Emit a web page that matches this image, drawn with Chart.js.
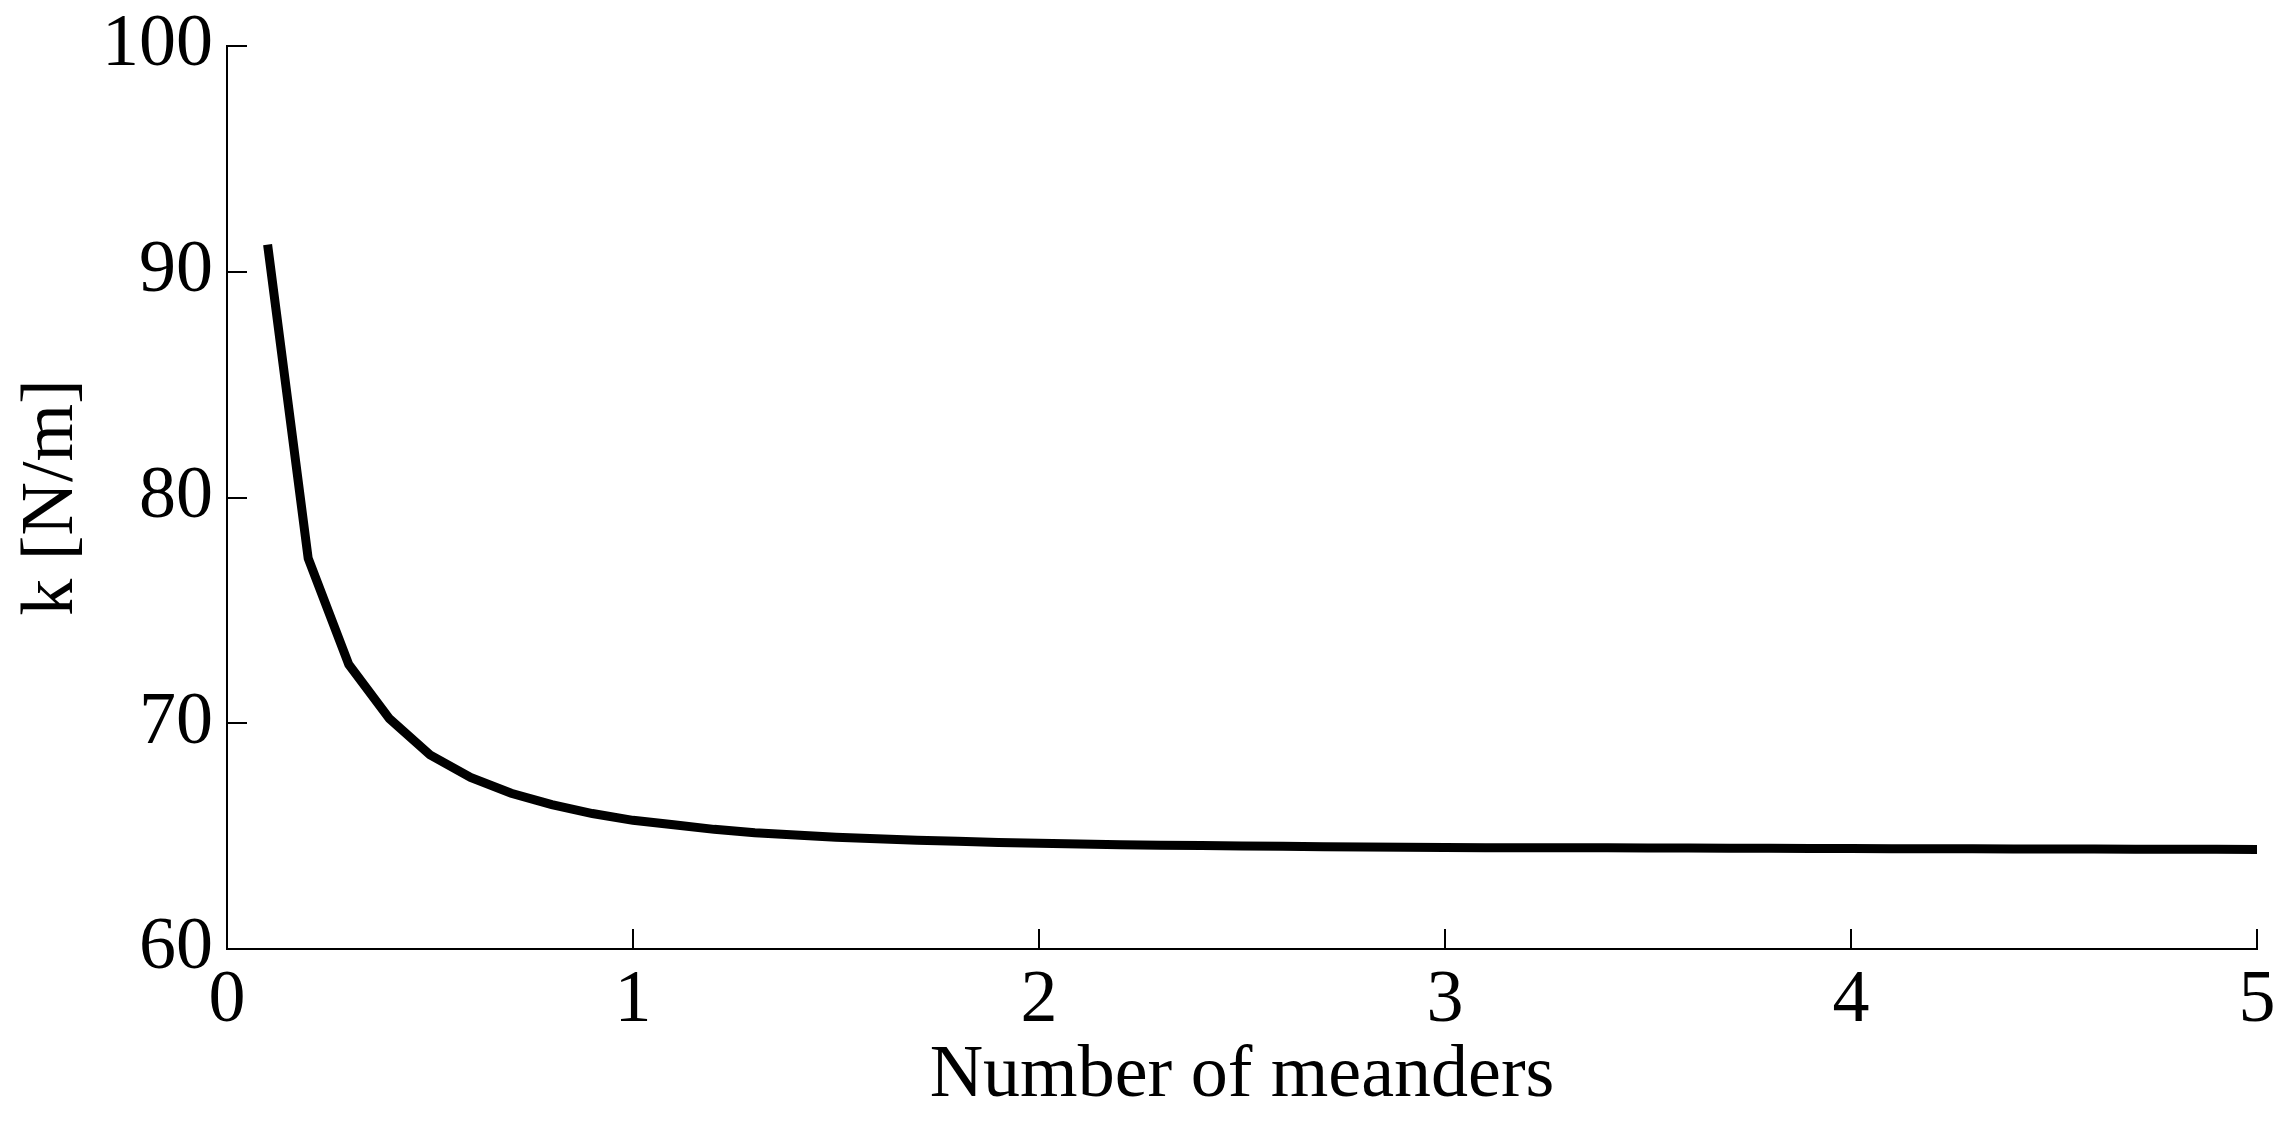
<!DOCTYPE html>
<html>
<head>
<meta charset="utf-8">
<script src="https://cdn.jsdelivr.net/npm/chart.js@4/dist/chart.umd.min.js"></script>
<style>
  html, body { margin: 0; padding: 0; background: #ffffff; }
  #wrap { width: 2289px; height: 1125px; }
</style>
</head>
<body>
<div id="wrap"><canvas id="c" width="2289" height="1125"></canvas></div>
<script>
// Number of meanders (x) and spring constant k [N/m] (y)
const meanders = [0.1,0.2,0.3,0.4,0.5,0.6,0.7,0.8,0.9,1.0,
                  1.1,1.2,1.3,1.4,1.5,1.6,1.7,1.8,1.9,2.0,
                  2.1,2.2,2.3,2.4,2.5,2.6,2.7,2.8,2.9,3.0,
                  3.1,3.2,3.3,3.4,3.5,3.6,3.7,3.8,3.9,4.0,
                  4.1,4.2,4.3,4.4,4.5,4.6,4.7,4.8,4.9,5.0];
const stiffness = [91.2,77.3,72.6,70.2,68.6,67.6,66.9,66.4,66.0,65.7,
                   65.5,65.3,65.15,65.05,64.95,64.88,64.82,64.77,64.72,64.68,
                   64.65,64.62,64.6,64.58,64.56,64.55,64.53,64.52,64.51,64.5,
                   64.49,64.49,64.48,64.48,64.47,64.47,64.46,64.46,64.45,64.45,
                   64.44,64.44,64.44,64.43,64.43,64.43,64.42,64.42,64.42,64.41];
const xTicks = [0,1,2,3,4,5];
const yTicks = [60,70,80,90,100];
const xTitle = 'Number of meanders';
const yTitle = 'k [N/m]';

const points = meanders.map((m, i) => ({ x: m, y: stiffness[i] }));
const FONT = 'Liberation Serif';

const inwardTicks = {
  id: 'inwardTicks',
  afterDatasetsDraw(chart) {
    const { ctx, scales: { x, y } } = chart;
    ctx.save();
    ctx.strokeStyle = '#000';
    ctx.lineWidth = 2;
    ctx.beginPath();
    xTicks.forEach(v => {
      const px = Math.round(x.getPixelForValue(v));
      ctx.moveTo(px, y.bottom);
      ctx.lineTo(px, y.bottom - 20);
    });
    yTicks.forEach(v => {
      const py = Math.round(y.getPixelForValue(v));
      ctx.moveTo(x.left, py);
      ctx.lineTo(x.left + 20, py);
    });
    ctx.stroke();
    ctx.restore();
  }
};

new Chart(document.getElementById('c'), {
  type: 'line',
  data: {
    datasets: [{
      data: points,
      borderColor: '#000',
      backgroundColor: '#000',
      borderWidth: 9,
      pointRadius: 0,
      tension: 0,
      fill: false
    }]
  },
  options: {
    responsive: false,
    animation: false,
    events: [],
    layout: { padding: { top: 46, right: 32, left: 0, bottom: 0 } },
    plugins: { legend: { display: false }, tooltip: { enabled: false } },
    scales: {
      x: {
        type: 'linear',
        min: 0, max: 5,
        afterBuildTicks(scale) { scale.ticks = xTicks.map(v => ({ value: v })); },
        afterFit(scale) { scale.height = 176; scale.paddingLeft = 0; scale.paddingRight = 0; },
        grid: { display: true, drawOnChartArea: false, drawTicks: false },
        border: { display: true, color: '#000', width: 2 },
        ticks: { color: '#000', font: { family: FONT, size: 74 }, padding: 8, maxRotation: 0 },
        title: { display: true, text: xTitle, color: '#000', font: { family: FONT, size: 74 }, padding: { top: 0, bottom: 4 } }
      },
      y: {
        type: 'linear',
        min: 60, max: 100,
        afterBuildTicks(scale) { scale.ticks = yTicks.map(v => ({ value: v })); },
        afterFit(scale) { scale.width = 227; scale.paddingTop = 0; scale.paddingBottom = 0; },
        grid: { display: true, drawOnChartArea: false, drawTicks: false },
        border: { display: true, color: '#000', width: 2 },
        ticks: { color: '#000', font: { family: FONT, size: 74 }, padding: 14 },
        title: { display: true, text: yTitle, color: '#000', font: { family: FONT, size: 74 }, padding: { top: 8, bottom: 0 } }
      }
    }
  },
  plugins: [inwardTicks]
});
</script>
</body>
</html>
